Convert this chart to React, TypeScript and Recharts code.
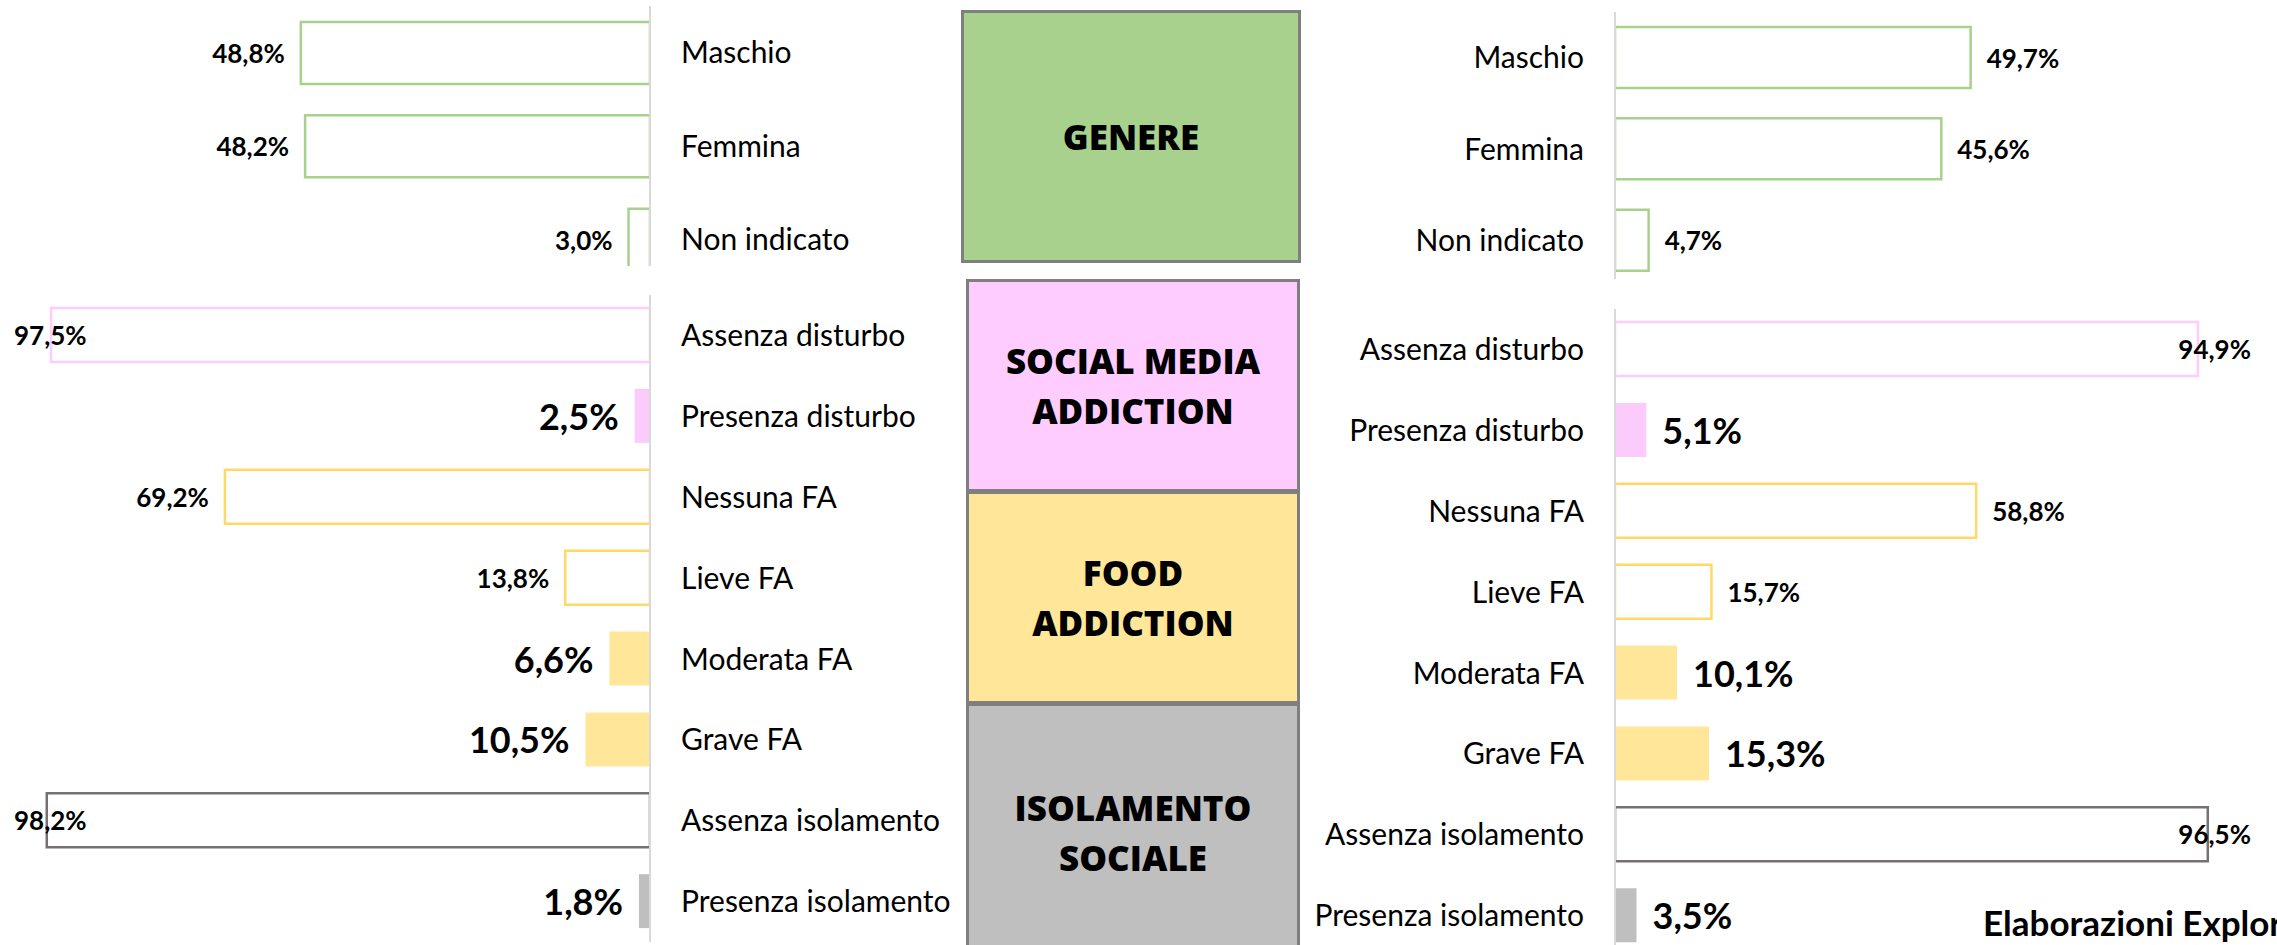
import React from "react";
import { BarChart, Bar, XAxis, YAxis, Cell, LabelList } from "recharts";

// dati (percentuali)
const genereCategorie = ["Maschio", "Femmina", "Non indicato"];
const genereSinistra = [48.8, 48.2, 3.0];
const genereDestra = [49.7, 45.6, 4.7];

const profiloCategorie = [
  "Assenza disturbo",
  "Presenza disturbo",
  "Nessuna FA",
  "Lieve FA",
  "Moderata FA",
  "Grave FA",
  "Assenza isolamento",
  "Presenza isolamento",
];
const profiloSinistra = [97.5, 2.5, 69.2, 13.8, 6.6, 10.5, 98.2, 1.8];
const profiloDestra = [94.9, 5.1, 58.8, 15.7, 10.1, 15.3, 96.5, 3.5];

const pannelli = [
  ["GENERE"],
  ["SOCIAL MEDIA", "ADDICTION"],
  ["FOOD", "ADDICTION"],
  ["ISOLAMENTO", "SOCIALE"],
];
const fonte = "Elaborazioni Explorer";

// categorie disegnate come barre piene (con etichetta grande)
const categoriePiene = ["Presenza disturbo", "Moderata FA", "Grave FA", "Presenza isolamento"];

const FONT = "Lato, 'Liberation Sans', sans-serif";

const colore = (cat: string) => {
  if (cat.includes("disturbo")) return { line: "#ffccff", fill: "#fbcbfb" };
  if (cat.includes("FA")) return { line: "#ffd966", fill: "#ffe699" };
  if (cat.includes("isolamento")) return { line: "#767171", fill: "#bfbfbf" };
  return { line: "#a9d18e", fill: "#a9d18e" };
};

const fmt = (v: number) => v.toFixed(1).replace(".", ",") + "%";

type SideProps = {
  categories: string[];
  values: number[];
  side: "left" | "right";
  width: number;
  height: number;
  domainMax: number;
  margin: { top: number; right: number; bottom: number; left: number };
  axisWidth: number;
  barSize: number;
  labelLimit: number;
};

const SideChart = (p: SideProps) => {
  const data = p.categories.map((c, i) => ({ cat: c, v: p.values[i] }));
  const left = p.side === "left";

  const renderLabel = (props: any) => {
    const vb = props.viewBox || props;
    const x = Number(vb.x), w = Number(vb.width);
    const y = Number(vb.y), h = Number(vb.height);
    const idx = props.index;
    const cat = data[idx] ? data[idx].cat : "";
    const big = categoriePiene.includes(cat);
    const fs = big ? 36 : 26;
    const text = fmt(Number(props.value));
    const est = text.length * fs * 0.5;
    const l = Math.min(x, x + w);
    const r = Math.max(x, x + w);
    let tx: number;
    let anchor: "start" | "end";
    if (left) {
      tx = l - 16;
      anchor = "end";
      if (tx - est < p.labelLimit) {
        tx = p.labelLimit;
        anchor = "start";
      }
    } else {
      tx = r + 16;
      anchor = "start";
      if (tx + est > p.labelLimit) {
        tx = p.labelLimit;
        anchor = "end";
      }
    }
    return (
      <text
        x={tx}
        y={y + h / 2}
        textAnchor={anchor}
        dominantBaseline="central"
        fontFamily={FONT}
        fontWeight={700}
        fontSize={fs}
        fill="#000"
      >
        {text}
      </text>
    );
  };

  return (
    <BarChart
      layout="vertical"
      width={p.width}
      height={p.height}
      data={data}
      margin={p.margin}
    >
      <XAxis type="number" domain={[0, p.domainMax]} reversed={left} hide allowDataOverflow />
      <YAxis
        type="category"
        dataKey="cat"
        orientation={left ? "right" : "left"}
        width={p.axisWidth}
        interval={0}
        tickLine={false}
        tickSize={0}
        tickMargin={31}
        axisLine={{ stroke: "#d9d9d9", strokeWidth: 2 }}
        tick={{ fontFamily: FONT, fontSize: 30, fill: "#000" }}
      />
      <Bar dataKey="v" barSize={p.barSize} isAnimationActive={false}>
        {data.map((d) => {
          const c = colore(d.cat);
          const piena = categoriePiene.includes(d.cat);
          return (
            <Cell
              key={d.cat}
              fill={piena ? c.fill : "#ffffff"}
              stroke={piena ? "none" : c.line}
              strokeWidth={2.5}
            />
          );
        })}
        <LabelList dataKey="v" content={renderLabel} />
      </Bar>
    </BarChart>
  );
};

const sfondi = ["#a9d18e", "#ffccff", "#ffe699", "#bfbfbf"];
const boxPos = [
  { left: 961, top: 10, width: 340, height: 253 },
  { left: 966, top: 279, width: 334, height: 213 },
  { left: 966, top: 491, width: 334, height: 213 },
  { left: 966, top: 703, width: 334, height: 260 },
];

const App = () => {
  return (
    <div
      style={{
        position: "absolute",
        left: 0,
        top: 0,
        width: 2277,
        height: 945,
        overflow: "hidden",
        background: "#fff",
      }}
    >
      {/* sinistra - genere */}
      <div style={{ position: "absolute", left: 0, top: 0, width: 960, height: 266, overflow: "hidden" }}>
        <SideChart
          categories={genereCategorie}
          values={genereSinistra}
          side="left"
          width={960}
          height={290}
          domainMax={90}
          margin={{ top: 6, right: 0, bottom: 4, left: 6 }}
          axisWidth={310}
          barSize={62}
          labelLimit={14}
        />
      </div>
      {/* sinistra - profili */}
      <div style={{ position: "absolute", left: 0, top: 290, width: 960, height: 655, overflow: "hidden" }}>
        <SideChart
          categories={profiloCategorie}
          values={profiloSinistra}
          side="left"
          width={960}
          height={660}
          domainMax={105}
          margin={{ top: 5, right: 0, bottom: 8, left: 5 }}
          axisWidth={310}
          barSize={54}
          labelLimit={14}
        />
      </div>
      {/* destra - genere */}
      <div style={{ position: "absolute", left: 1300, top: 0, width: 977, height: 279, overflow: "hidden" }}>
        <SideChart
          categories={genereCategorie}
          values={genereDestra}
          side="right"
          width={977}
          height={290}
          domainMax={90}
          margin={{ top: 12, right: 18, bottom: 4, left: 0 }}
          axisWidth={315}
          barSize={61}
          labelLimit={951}
        />
      </div>
      {/* destra - profili */}
      <div style={{ position: "absolute", left: 1300, top: 290, width: 977, height: 655, overflow: "hidden" }}>
        <SideChart
          categories={profiloCategorie}
          values={profiloDestra}
          side="right"
          width={977}
          height={670}
          domainMax={105}
          margin={{ top: 19, right: 17, bottom: 4, left: 0 }}
          axisWidth={315}
          barSize={54}
          labelLimit={951}
        />
      </div>

      {pannelli.map((righe, i) => (
        <div
          key={i}
          style={{
            position: "absolute",
            ...boxPos[i],
            boxSizing: "border-box",
            background: sfondi[i],
            border: "3px solid #7f7f7f",
            display: "flex",
            flexDirection: "column",
            alignItems: "center",
            justifyContent: "center",
            fontFamily: "'Open Sans', 'DejaVu Sans', sans-serif",
            fontWeight: 800,
            fontSize: 35,
            lineHeight: "50px",
            color: "#000",
            textAlign: "center",
          }}
        >
          {righe.map((r) => (
            <div key={r}>{r}</div>
          ))}
        </div>
      ))}

      <div
        style={{
          position: "absolute",
          left: 1983,
          top: 901,
          fontFamily: FONT,
          fontWeight: 700,
          fontSize: 35,
          whiteSpace: "nowrap",
          color: "#000",
        }}
      >
        {fonte}
      </div>
    </div>
  );
};

export default App;
